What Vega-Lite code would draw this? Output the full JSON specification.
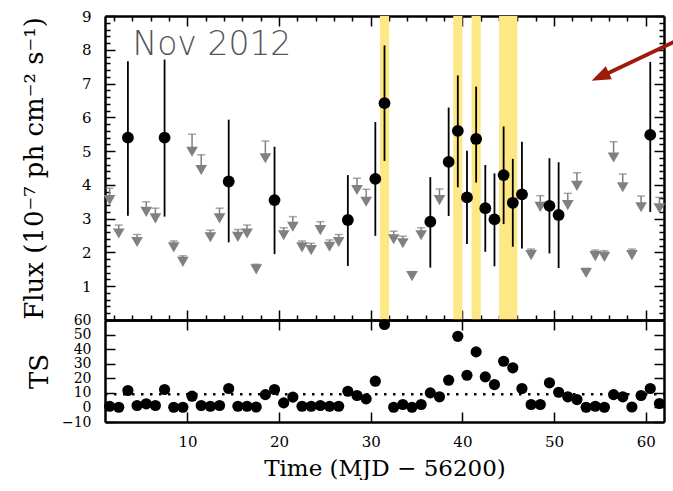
{
  "$schema": "https://vega.github.io/schema/vega-lite/v6.json",
  "padding": {"left": 21, "top": 9, "right": 0, "bottom": 0},
  "spacing": 0,
  "bounds": "flush",
  "config": {
    "view": {"stroke": null},
    "font": "DejaVu Serif",
    "axis": {"grid": false, "tickColor": "black", "tickWidth": 1.5, "domainColor": "black", "domainWidth": 2.5, "labelColor": "black", "titleColor": "black", "labelFont": "DejaVu Serif", "titleFont": "DejaVu Serif", "labelFontSize": 15, "titleFontSize": 26, "titleFontWeight": "normal", "zindex": 1, "labelPadding": 24, "labelOverlap": false, "labelFlush": false}
  },
  "datasets": {
    "bands": [{"start": 31, "end": 32}, {"start": 39, "end": 40}, {"start": 41, "end": 42}, {"start": 44, "end": 46}],
    "det": [
      {"t": 3.5, "flux": 5.40, "lo": 3.09, "hi": 7.66},
      {"t": 7.5, "flux": 5.40, "lo": 3.06, "hi": 7.71},
      {"t": 14.5, "flux": 4.10, "lo": 2.30, "hi": 5.93},
      {"t": 19.5, "flux": 3.55, "lo": 1.95, "hi": 5.13},
      {"t": 27.5, "flux": 2.96, "lo": 1.60, "hi": 4.29},
      {"t": 30.5, "flux": 4.18, "lo": 2.49, "hi": 5.86},
      {"t": 31.5, "flux": 6.42, "lo": 4.71, "hi": 8.13},
      {"t": 36.5, "flux": 2.91, "lo": 1.55, "hi": 4.23},
      {"t": 38.5, "flux": 4.68, "lo": 3.08, "hi": 6.29},
      {"t": 39.5, "flux": 5.60, "lo": 3.93, "hi": 7.24},
      {"t": 40.5, "flux": 3.63, "lo": 2.25, "hi": 5.01},
      {"t": 41.5, "flux": 5.36, "lo": 4.07, "hi": 6.91},
      {"t": 42.5, "flux": 3.31, "lo": 2.02, "hi": 4.59},
      {"t": 43.5, "flux": 2.98, "lo": 1.59, "hi": 4.34},
      {"t": 44.5, "flux": 4.29, "lo": 2.84, "hi": 5.73},
      {"t": 45.5, "flux": 3.47, "lo": 2.17, "hi": 4.77},
      {"t": 46.5, "flux": 3.72, "lo": 2.12, "hi": 5.28},
      {"t": 49.5, "flux": 3.38, "lo": 1.97, "hi": 4.79},
      {"t": 50.5, "flux": 3.11, "lo": 1.54, "hi": 4.67},
      {"t": 60.5, "flux": 5.48, "lo": 3.20, "hi": 7.64}
    ],
    "ul": [
      {"t": 1.5, "ul": 3.55, "cap": 3.90},
      {"t": 2.5, "ul": 2.56, "cap": 2.81},
      {"t": 4.5, "ul": 2.31, "cap": 2.53},
      {"t": 5.5, "ul": 3.20, "cap": 3.50},
      {"t": 6.5, "ul": 3.01, "cap": 3.31},
      {"t": 8.5, "ul": 2.15, "cap": 2.34},
      {"t": 9.5, "ul": 1.72, "cap": 1.90},
      {"t": 10.5, "ul": 4.98, "cap": 5.50},
      {"t": 11.5, "ul": 4.44, "cap": 4.89},
      {"t": 12.5, "ul": 2.45, "cap": 2.66},
      {"t": 13.5, "ul": 3.01, "cap": 3.31},
      {"t": 15.5, "ul": 2.46, "cap": 2.68},
      {"t": 16.5, "ul": 2.56, "cap": 2.81},
      {"t": 17.5, "ul": 1.50, "cap": 1.65},
      {"t": 18.5, "ul": 4.79, "cap": 5.30},
      {"t": 20.5, "ul": 2.51, "cap": 2.73},
      {"t": 21.5, "ul": 2.76, "cap": 3.06},
      {"t": 22.5, "ul": 2.15, "cap": 2.34},
      {"t": 23.5, "ul": 2.07, "cap": 2.27},
      {"t": 24.5, "ul": 2.66, "cap": 2.91},
      {"t": 25.5, "ul": 2.17, "cap": 2.37},
      {"t": 26.5, "ul": 2.31, "cap": 2.53},
      {"t": 28.5, "ul": 3.85, "cap": 4.20},
      {"t": 29.5, "ul": 3.50, "cap": 3.87},
      {"t": 32.5, "ul": 2.39, "cap": 2.63},
      {"t": 33.5, "ul": 2.27, "cap": 2.48},
      {"t": 34.5, "ul": 1.30, "cap": 1.43},
      {"t": 35.5, "ul": 2.51, "cap": 2.73},
      {"t": 37.5, "ul": 3.55, "cap": 3.88},
      {"t": 47.5, "ul": 1.92, "cap": 2.10},
      {"t": 48.5, "ul": 3.35, "cap": 3.68},
      {"t": 51.5, "ul": 3.40, "cap": 3.75},
      {"t": 52.5, "ul": 3.97, "cap": 4.36},
      {"t": 53.5, "ul": 1.39, "cap": 1.53},
      {"t": 54.5, "ul": 1.89, "cap": 2.07},
      {"t": 55.5, "ul": 1.87, "cap": 2.05},
      {"t": 56.5, "ul": 4.81, "cap": 5.28},
      {"t": 57.5, "ul": 3.93, "cap": 4.32},
      {"t": 58.5, "ul": 1.92, "cap": 2.10},
      {"t": 59.5, "ul": 3.34, "cap": 3.67},
      {"t": 61.5, "ul": 3.31, "cap": 3.63}
    ],
    "ts": [
      {"t": 1.5, "ts": 0.8}, {"t": 2.5, "ts": 0.1}, {"t": 3.5, "ts": 11.6}, {"t": 4.5, "ts": 1.3},
      {"t": 5.5, "ts": 2.5}, {"t": 6.5, "ts": 1.3}, {"t": 7.5, "ts": 12.3}, {"t": 8.5, "ts": 0.1},
      {"t": 9.5, "ts": 0.1}, {"t": 10.5, "ts": 7.7}, {"t": 11.5, "ts": 1.3}, {"t": 12.5, "ts": 0.8},
      {"t": 13.5, "ts": 1.3}, {"t": 14.5, "ts": 13.0}, {"t": 15.5, "ts": 0.8}, {"t": 16.5, "ts": 0.8},
      {"t": 17.5, "ts": 0.3}, {"t": 18.5, "ts": 8.8}, {"t": 19.5, "ts": 12.3}, {"t": 20.5, "ts": 3.1},
      {"t": 21.5, "ts": 7.1}, {"t": 22.5, "ts": 0.8}, {"t": 23.5, "ts": 0.8}, {"t": 24.5, "ts": 1.3},
      {"t": 25.5, "ts": 0.8}, {"t": 26.5, "ts": 0.8}, {"t": 27.5, "ts": 11.1}, {"t": 28.5, "ts": 8.2},
      {"t": 29.5, "ts": 5.9}, {"t": 30.5, "ts": 18.0}, {"t": 31.5, "ts": 56.9}, {"t": 32.5, "ts": 0.1},
      {"t": 33.5, "ts": 2.0}, {"t": 34.5, "ts": 0.1}, {"t": 35.5, "ts": 2.0}, {"t": 36.5, "ts": 10.0},
      {"t": 37.5, "ts": 7.3}, {"t": 38.5, "ts": 18.7}, {"t": 39.5, "ts": 48.8}, {"t": 40.5, "ts": 22.1},
      {"t": 41.5, "ts": 38.1}, {"t": 42.5, "ts": 21.0}, {"t": 43.5, "ts": 15.7}, {"t": 44.5, "ts": 31.7},
      {"t": 45.5, "ts": 27.2}, {"t": 46.5, "ts": 13.0}, {"t": 47.5, "ts": 2.0}, {"t": 48.5, "ts": 2.0},
      {"t": 49.5, "ts": 16.9}, {"t": 50.5, "ts": 10.4}, {"t": 51.5, "ts": 7.3}, {"t": 52.5, "ts": 5.4},
      {"t": 53.5, "ts": 0.1}, {"t": 54.5, "ts": 0.8}, {"t": 55.5, "ts": 0.1}, {"t": 56.5, "ts": 8.8},
      {"t": 57.5, "ts": 7.3}, {"t": 58.5, "ts": 0.3}, {"t": 59.5, "ts": 8.2}, {"t": 60.5, "ts": 13.0},
      {"t": 61.5, "ts": 2.7}
    ]
  },
  "vconcat": [
    {
      "width": 559,
      "height": 304,
      "layer": [
        {
          "data": {"name": "bands"},
          "mark": {"type": "rect", "color": "#fde885"},
          "encoding": {
            "x": {"field": "start", "type": "quantitative", "scale": {"domain": [1, 62], "nice": false}, "axis": null},
            "x2": {"field": "end"}
          }
        },
        {
          "data": {"name": "ul"},
          "mark": {"type": "rule", "color": "#808080", "strokeWidth": 1.5},
          "encoding": {
            "x": {"field": "t", "type": "quantitative", "scale": {"domain": [1, 62], "nice": false},
                  "axis": {"orient": "bottom", "values": [10, 20, 30, 40, 50, 60], "labels": false, "tickSize": -10, "domain": true, "title": null}},
            "y": {"field": "cap", "type": "quantitative", "scale": {"domain": [0, 9], "nice": false},
                  "axis": {"orient": "left", "values": [1, 2, 3, 4, 5, 6, 7, 8, 9], "tickSize": -10, "domain": true, "title": "Flux (10⁻⁷ ph cm⁻² s⁻¹)", "titlePadding": 34}},
            "y2": {"field": "ul"}
          }
        },
        {
          "data": {"name": "ul"},
          "mark": {"type": "tick", "orient": "horizontal", "color": "#808080", "size": 8, "thickness": 1.5},
          "encoding": {
            "x": {"field": "t", "type": "quantitative", "scale": {"domain": [1, 62], "nice": false},
                  "axis": {"orient": "bottom", "values": [2, 4, 6, 8, 12, 14, 16, 18, 22, 24, 26, 28, 32, 34, 36, 38, 42, 44, 46, 48, 52, 54, 56, 58], "labels": false, "tickSize": -5, "domain": false, "title": null}},
            "y": {"field": "cap", "type": "quantitative", "scale": {"domain": [0, 9], "nice": false},
                  "axis": {"orient": "left", "values": [0.2, 0.4, 0.6, 0.8, 1.2, 1.4, 1.6, 1.8, 2.2, 2.4, 2.6, 2.8, 3.2, 3.4, 3.6, 3.8, 4.2, 4.4, 4.6, 4.8, 5.2, 5.4, 5.6, 5.8, 6.2, 6.4, 6.6, 6.8, 7.2, 7.4, 7.6, 7.8, 8.2, 8.4, 8.6, 8.8], "labels": false, "tickSize": -5, "domain": false, "title": null}}
          }
        },
        {
          "data": {"name": "ul"},
          "mark": {"type": "point", "shape": "triangle-down", "filled": true, "size": 136, "color": "#808080", "opacity": 1},
          "encoding": {
            "x": {"field": "t", "type": "quantitative", "scale": {"domain": [1, 62], "nice": false},
                  "axis": {"orient": "top", "values": [10, 20, 30, 40, 50, 60], "labels": false, "tickSize": -10, "domain": true, "title": null}},
            "y": {"field": "ul", "type": "quantitative", "scale": {"domain": [0, 9], "nice": false},
                  "axis": {"orient": "right", "values": [1, 2, 3, 4, 5, 6, 7, 8, 9], "labels": false, "tickSize": -10, "domain": true, "title": null}}
          }
        },
        {
          "data": {"name": "det"},
          "mark": {"type": "rule", "color": "black", "strokeWidth": 1.8},
          "encoding": {
            "x": {"field": "t", "type": "quantitative", "scale": {"domain": [1, 62], "nice": false},
                  "axis": {"orient": "top", "values": [2, 4, 6, 8, 12, 14, 16, 18, 22, 24, 26, 28, 32, 34, 36, 38, 42, 44, 46, 48, 52, 54, 56, 58], "labels": false, "tickSize": -5, "domain": false, "title": null}},
            "y": {"field": "lo", "type": "quantitative", "scale": {"domain": [0, 9], "nice": false},
                  "axis": {"orient": "right", "values": [0.2, 0.4, 0.6, 0.8, 1.2, 1.4, 1.6, 1.8, 2.2, 2.4, 2.6, 2.8, 3.2, 3.4, 3.6, 3.8, 4.2, 4.4, 4.6, 4.8, 5.2, 5.4, 5.6, 5.8, 6.2, 6.4, 6.6, 6.8, 7.2, 7.4, 7.6, 7.8, 8.2, 8.4, 8.6, 8.8], "labels": false, "tickSize": -5, "domain": false, "title": null}},
            "y2": {"field": "hi"}
          }
        },
        {
          "data": {"name": "det"},
          "mark": {"type": "point", "shape": "circle", "filled": true, "size": 140, "color": "black", "opacity": 1},
          "encoding": {
            "x": {"field": "t", "type": "quantitative", "scale": {"domain": [1, 62], "nice": false}, "axis": null},
            "y": {"field": "flux", "type": "quantitative", "scale": {"domain": [0, 9], "nice": false}, "axis": null}
          }
        },
        {
          "data": {"values": [{}]},
          "mark": {"type": "text", "text": "Nov 2012", "align": "left", "baseline": "alphabetic", "font": "DejaVu Sans", "fontSize": 33, "fontWeight": 300, "color": "#555555"},
          "encoding": {
            "x": {"datum": 4.0, "type": "quantitative", "axis": null},
            "y": {"datum": 7.85, "type": "quantitative", "axis": null}
          }
        },
        {
          "data": {"values": [{}]},
          "mark": {"type": "rule", "color": "#9e1b0b", "strokeWidth": 4},
          "encoding": {
            "x": {"datum": 63.3, "type": "quantitative", "axis": null},
            "y": {"datum": 8.26, "type": "quantitative", "axis": null},
            "x2": {"datum": 55.3},
            "y2": {"datum": 7.23}
          }
        },
        {
          "data": {"values": [{}]},
          "mark": {"type": "point", "shape": "M0,-1L0.75,1L-0.75,1Z", "filled": true, "size": 361, "angle": 245, "color": "#9e1b0b", "opacity": 1},
          "encoding": {
            "x": {"datum": 55.04, "type": "quantitative", "axis": null},
            "y": {"datum": 7.2, "type": "quantitative", "axis": null}
          }
        }
      ],
      "resolve": {"axis": {"x": "independent", "y": "independent"}}
    },
    {
      "width": 559,
      "height": 102,
      "layer": [
        {
          "data": {"values": [{}]},
          "mark": {"type": "rule", "color": "black", "strokeWidth": 2.5, "strokeDash": [2.5, 6.5]},
          "encoding": {
            "x": {"datum": 1, "type": "quantitative", "scale": {"domain": [1, 62], "nice": false},
                  "axis": {"orient": "top", "values": [10, 20, 30, 40, 50, 60], "labels": false, "tickSize": -10, "domain": true, "title": null}},
            "x2": {"datum": 62},
            "y": {"datum": 9, "type": "quantitative", "scale": {"domain": [-10, 60], "nice": false},
                  "axis": {"orient": "right", "values": [-10, 0, 10, 20, 30, 40, 50, 60], "labels": false, "tickSize": -10, "domain": true, "title": null}}
          }
        },
        {
          "data": {"name": "ts"},
          "mark": {"type": "point", "shape": "circle", "filled": true, "size": 125, "color": "black", "opacity": 1},
          "encoding": {
            "x": {"field": "t", "type": "quantitative", "scale": {"domain": [1, 62], "nice": false},
                  "axis": {"orient": "bottom", "values": [10, 20, 30, 40, 50, 60], "tickSize": -10, "domain": true, "labelPadding": 22, "title": "Time (MJD − 56200)", "titleFontSize": 23, "titlePadding": 8}},
            "y": {"field": "ts", "type": "quantitative", "scale": {"domain": [-10, 60], "nice": false},
                  "axis": {"orient": "left", "values": [-10, 0, 10, 20, 30, 40, 50, 60], "tickSize": -10, "domain": true, "labelFontSize": 14, "title": "TS", "titlePadding": 9}}
          }
        }
      ],
      "resolve": {"axis": {"x": "independent", "y": "independent"}}
    }
  ]
}
